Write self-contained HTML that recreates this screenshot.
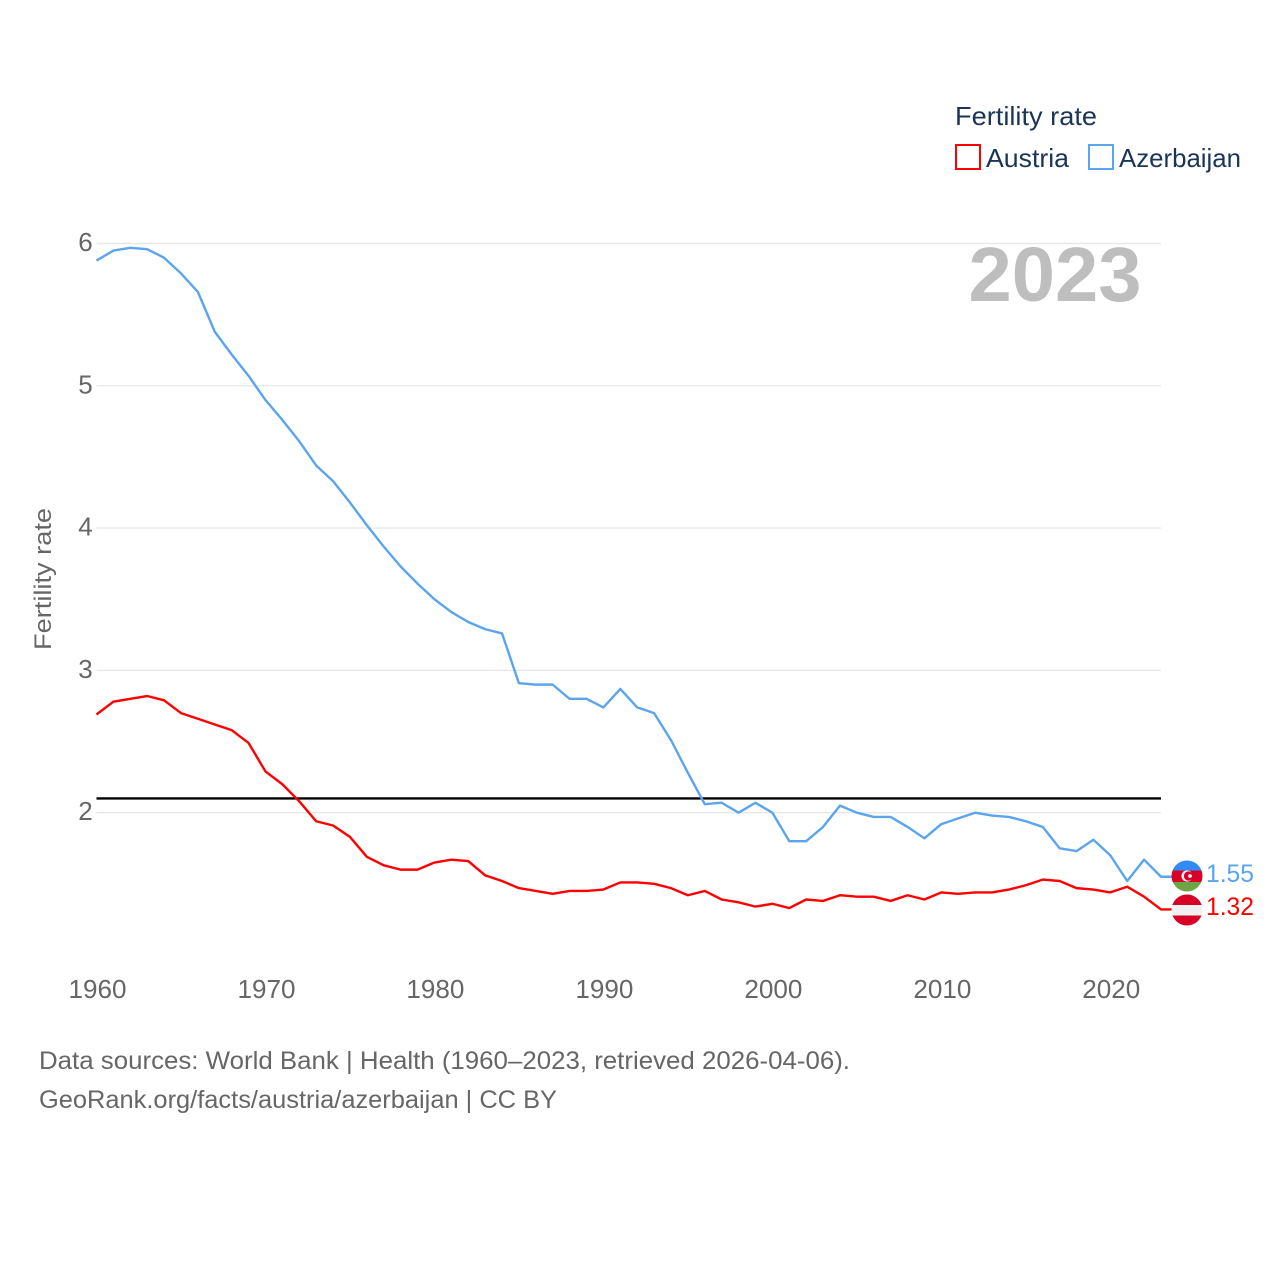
<!DOCTYPE html>
<html lang="en">
<head>
<meta charset="utf-8">
<title>Fertility rate: Austria and Azerbaijan</title>
<style>
  html, body { margin: 0; padding: 0; background: #fff; }
  svg { display: block; }
  text { font-family: "Liberation Sans", sans-serif; }
</style>
</head>
<body>
<svg id="chart" xmlns="http://www.w3.org/2000/svg" width="1280" height="1280" viewBox="0 0 1280 1280">
  <rect x="0" y="0" width="1280" height="1280" fill="#fff"/>
  <g id="grid"></g>
  <g id="yticks"></g>
  <g id="xticks"></g>
  <text x="968.500" y="301" font-size="77" font-weight="bold" fill="#bebebe" textLength="173" lengthAdjust="spacingAndGlyphs">2023</text>
  <text transform="translate(51,650) rotate(-90)" font-size="24" fill="#666" textLength="142" lengthAdjust="spacingAndGlyphs">Fertility rate</text>
  <line id="refline" x1="96.5" x2="1161" stroke="#000" stroke-width="2.4"/>
  <g id="series"></g>

  <defs>
    <clipPath id="clip-az"><circle cx="1187" cy="876" r="15.5"/></clipPath>
    <clipPath id="clip-at"><circle cx="1187" cy="910" r="15.5"/></clipPath>
  </defs>
  <g clip-path="url(#clip-az)">
    <rect x="1170" y="860" width="34" height="10.500" fill="#338af3"/>
    <rect x="1170" y="870.500" width="34" height="11.500" fill="#d80027"/>
    <rect x="1170" y="882" width="34" height="11" fill="#6da544"/>
    <circle cx="1187" cy="876" r="5.600" fill="#f0f0f0"/>
    <circle cx="1188.500" cy="876" r="4.600" fill="#d80027"/>
    <circle cx="1190" cy="876" r="1.900" fill="#f0f0f0"/>
  </g>
  <g clip-path="url(#clip-at)">
    <rect x="1170" y="894" width="34" height="11" fill="#d80027"/>
    <rect x="1170" y="905" width="34" height="10.500" fill="#f0f0f0"/>
    <rect x="1170" y="915.500" width="34" height="11" fill="#d80027"/>
  </g>
  <text x="1206" y="882" font-size="25" fill="#5ba4ee" textLength="48" lengthAdjust="spacingAndGlyphs">1.55</text>
  <text x="1206" y="915" font-size="25" fill="#ff0000" textLength="48" lengthAdjust="spacingAndGlyphs">1.32</text>

  <g>
    <text x="955" y="125" font-size="26" fill="#1b3556" textLength="142" lengthAdjust="spacingAndGlyphs">Fertility rate</text>
    <g>
      <rect x="956" y="145" width="24" height="24" fill="#fff" stroke="#ff0000" stroke-width="2"/>
      <text x="986" y="167" font-size="26" fill="#1b3556" textLength="83" lengthAdjust="spacingAndGlyphs">Austria</text>
    </g>
    <g>
      <rect x="1089" y="145" width="24" height="24" fill="#fff" stroke="#5ba4ee" stroke-width="2"/>
      <text x="1119" y="167" font-size="26" fill="#1b3556" textLength="122" lengthAdjust="spacingAndGlyphs">Azerbaijan</text>
    </g>
  </g>

  <text x="39" y="1069" font-size="25" fill="#666" textLength="811" lengthAdjust="spacingAndGlyphs">Data sources: World Bank | Health (1960–2023, retrieved 2026-04-06).</text>
  <text x="39" y="1108" font-size="25" fill="#666" textLength="518" lengthAdjust="spacingAndGlyphs">GeoRank.org/facts/austria/azerbaijan | CC BY</text>
</svg>
<script>
const startYear = 1960;
const yTickValues = [2, 3, 4, 5, 6];
const xTickYears = [1960, 1970, 1980, 1990, 2000, 2010, 2020];
const replacementRate = 2.1;
const azerbaijanValues = [5.88, 5.95, 5.97, 5.96, 5.90, 5.79, 5.66, 5.38, 5.22, 5.07, 4.90, 4.76, 4.61, 4.44, 4.33, 4.18, 4.02, 3.87, 3.73, 3.61, 3.50, 3.41, 3.34, 3.29, 3.26, 2.91, 2.90, 2.90, 2.80, 2.80, 2.74, 2.87, 2.74, 2.70, 2.51, 2.28, 2.06, 2.07, 2.00, 2.07, 2.00, 1.80, 1.80, 1.90, 2.05, 2.00, 1.97, 1.97, 1.90, 1.82, 1.92, 1.96, 2.00, 1.98, 1.97, 1.94, 1.90, 1.75, 1.73, 1.81, 1.70, 1.52, 1.67, 1.55];
const austriaValues = [2.69, 2.78, 2.80, 2.82, 2.79, 2.70, 2.66, 2.62, 2.58, 2.49, 2.29, 2.20, 2.08, 1.94, 1.91, 1.83, 1.69, 1.63, 1.60, 1.60, 1.65, 1.67, 1.66, 1.56, 1.52, 1.47, 1.45, 1.43, 1.45, 1.45, 1.46, 1.51, 1.51, 1.50, 1.47, 1.42, 1.45, 1.39, 1.37, 1.34, 1.36, 1.33, 1.39, 1.38, 1.42, 1.41, 1.41, 1.38, 1.42, 1.39, 1.44, 1.43, 1.44, 1.44, 1.46, 1.49, 1.53, 1.52, 1.47, 1.46, 1.44, 1.48, 1.41, 1.32];

const NS = 'http://www.w3.org/2000/svg';
function xScale(year) { return 96.5 + (year - 1960) * (1161 - 96.5) / 63; }
function yScale(v) { return 812.7 - (v - 2) * 142.3; }

const gridGroup = document.getElementById('grid');
const yTickGroup = document.getElementById('yticks');
const xTickGroup = document.getElementById('xticks');
const seriesGroup = document.getElementById('series');

yTickValues.forEach(function (v) {
  const line = document.createElementNS(NS, 'line');
  
  
  line.setAttribute('x1', 96.5);
  line.setAttribute('x2', 1161);
  line.setAttribute('y1', yScale(v));
  line.setAttribute('y2', yScale(v));
  line.setAttribute('stroke', '#e8e8e8');
  line.setAttribute('stroke-width', 1.4);
  gridGroup.appendChild(line);

  const label = document.createElementNS(NS, 'text');
  
  
  label.setAttribute('x', 85.5);
  label.setAttribute('y', yScale(v) + 7.5);
  label.setAttribute('text-anchor', 'middle');
  label.setAttribute('font-size', 26);
  label.setAttribute('fill', '#666');
  label.textContent = String(v);
  yTickGroup.appendChild(label);
});

xTickYears.forEach(function (year) {
  const label = document.createElementNS(NS, 'text');
  
  
  label.setAttribute('x', xScale(year) + 1);
  label.setAttribute('y', 998);
  label.setAttribute('text-anchor', 'middle');
  label.setAttribute('font-size', 26);
  label.setAttribute('fill', '#666');
  label.setAttribute('textLength', 58);
  label.setAttribute('lengthAdjust', 'spacingAndGlyphs');
  label.textContent = String(year);
  xTickGroup.appendChild(label);
});

const refLine = document.getElementById('refline');
refLine.setAttribute('y1', yScale(replacementRate));
refLine.setAttribute('y2', yScale(replacementRate));

function seriesPoints(values) {
  const pts = values.map(function (v, i) {
    return xScale(startYear + i).toFixed(2) + ',' + yScale(v).toFixed(2);
  });
  pts.push('1174,' + yScale(values[values.length - 1]).toFixed(2));
  return pts.join(' ');
}

const azerbaijanLine = document.createElementNS(NS, 'polyline');


azerbaijanLine.setAttribute('points', seriesPoints(azerbaijanValues));
azerbaijanLine.setAttribute('fill', 'none');
azerbaijanLine.setAttribute('stroke', '#5ba4ee');
azerbaijanLine.setAttribute('stroke-width', 2.4);
azerbaijanLine.setAttribute('stroke-linejoin', 'round');
seriesGroup.appendChild(azerbaijanLine);

const austriaLine = document.createElementNS(NS, 'polyline');


austriaLine.setAttribute('points', seriesPoints(austriaValues));
austriaLine.setAttribute('fill', 'none');
austriaLine.setAttribute('stroke', '#ff0000');
austriaLine.setAttribute('stroke-width', 2.4);
austriaLine.setAttribute('stroke-linejoin', 'round');
seriesGroup.appendChild(austriaLine);
</script>
</body>
</html>
